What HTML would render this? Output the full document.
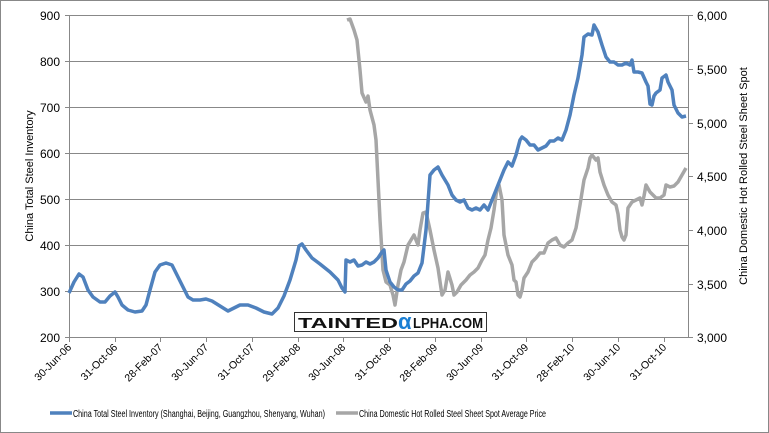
<!DOCTYPE html>
<html><head><meta charset="utf-8"><style>
html,body{margin:0;padding:0;background:#fff}
svg{display:block;font-family:"Liberation Sans",sans-serif}
</style></head><body>
<svg width="769" height="433" viewBox="0 0 769 433">
<rect x="0.5" y="0.5" width="768" height="432" fill="#fff" stroke="#888"/>
<g stroke="#888" stroke-width="1">
<line x1="69" y1="15.5" x2="689" y2="15.5"/><line x1="69" y1="61.5" x2="689" y2="61.5"/>
<line x1="69" y1="107.5" x2="689" y2="107.5"/><line x1="69" y1="153.5" x2="689" y2="153.5"/>
<line x1="69" y1="199.5" x2="689" y2="199.5"/><line x1="69" y1="245.5" x2="689" y2="245.5"/>
<line x1="69" y1="291.5" x2="689" y2="291.5"/>
<line x1="69.5" y1="15" x2="69.5" y2="337"/><line x1="688.5" y1="15" x2="688.5" y2="337"/>
<line x1="65" y1="337.5" x2="689" y2="337.5"/>
<path d="M65 15.5h4M65 61.5h4M65 107.5h4M65 153.5h4M65 199.5h4M65 245.5h4M65 291.5h4"/>
<path d="M689 15.5h4M689 69.5h4M689 123.5h4M689 176.5h4M689 230.5h4M689 284.5h4M689 337.5h4"/>
<path d="M69.5 337v5M115.5 337v5M160.5 337v5M206.5 337v5M252.5 337v5M298.5 337v5M343.5 337v5M389.5 337v5M435.5 337v5M481.5 337v5M526.5 337v5M572.5 337v5M618.5 337v5M664.5 337v5"/>
</g>
<g font-size="12" fill="#000" text-anchor="end">
<text x="60" y="20">900</text><text x="60" y="66">800</text><text x="60" y="112">700</text><text x="60" y="158">600</text><text x="60" y="204">500</text><text x="60" y="250">400</text><text x="60" y="296">300</text><text x="60" y="342">200</text>
</g>
<g font-size="12" fill="#000">
<text x="697" y="20">6,000</text><text x="697" y="74">5,500</text><text x="697" y="128">5,000</text><text x="697" y="181">4,500</text><text x="697" y="235">4,000</text><text x="697" y="289">3,500</text><text x="697" y="342">3,000</text>
</g>
<g font-size="10.5" fill="#000" text-anchor="end">
<text transform="translate(72,348) rotate(-45)">30-Jun-06</text>
<text transform="translate(118,348) rotate(-45)">31-Oct-06</text>
<text transform="translate(163,348) rotate(-45)">28-Feb-07</text>
<text transform="translate(209,348) rotate(-45)">30-Jun-07</text>
<text transform="translate(255,348) rotate(-45)">31-Oct-07</text>
<text transform="translate(301,348) rotate(-45)">29-Feb-08</text>
<text transform="translate(346,348) rotate(-45)">30-Jun-08</text>
<text transform="translate(392,348) rotate(-45)">31-Oct-08</text>
<text transform="translate(438,348) rotate(-45)">28-Feb-09</text>
<text transform="translate(484,348) rotate(-45)">30-Jun-09</text>
<text transform="translate(529,348) rotate(-45)">31-Oct-09</text>
<text transform="translate(575,348) rotate(-45)">28-Feb-10</text>
<text transform="translate(621,348) rotate(-45)">30-Jun-10</text>
<text transform="translate(667,348) rotate(-45)">31-Oct-10</text>
</g>
<text transform="translate(33,176) rotate(-90)" font-size="11" text-anchor="middle">China Total Steel  Inventory</text>
<text transform="translate(747,176) rotate(-90)" font-size="11" text-anchor="middle">China Domestic Hot Rolled Steel Sheet Spot</text>
<polyline fill="none" stroke="#a6a6a6" stroke-width="3.5" stroke-linejoin="round" points="347,20 350,19 354,30 357,40 360,70 362,93 366,102 368,96 370,110 374,125 376,140 378,180 380,220 383,270 386,282 390,285 393,295 395,305 398,285 401,270 404,262 408,245 411,240 414,235 418,245 420,230 423,213 426,212 430,230 434,250 438,268 442,295 445,290 448,272 452,285 454,295 457,292 461,285 466,280 470,275 474,272 478,268 482,260 485,255 488,240 491,228 494,210 497,188 499,185 502,200 504,235 508,255 512,265 514,280 516,282 518,295 520,297 522,290 524,278 528,272 532,262 536,258 540,253 544,253 548,243 552,240 556,238 560,245 564,247 568,243 572,240 576,228 580,205 584,180 588,168 590,158 592,155 596,160 598,158 600,172 604,185 608,195 612,202 616,205 618,214 620,230 622,237 624,240 626,235 628,208 632,202 636,200 640,198 642,205 644,196 646,185 650,192 656,198 660,198 664,195 666,185 670,187 674,186 678,182 682,175 686,168"/>
<polyline fill="none" stroke="#4f81bd" stroke-width="3.5" stroke-linejoin="round" points="69,293 74,282 79,274 83,277 88,290 93,297 100,302 105,302 110,296 115,292 118,297 122,305 128,310 135,312 142,311 146,305 150,290 155,272 160,265 166,263 172,265 176,273 182,285 188,297 193,300 200,300 206,299 212,301 220,306 228,311 234,308 240,305 248,305 256,308 264,312 272,314 278,308 284,296 290,280 296,260 299,246 302,244 306,250 312,258 320,264 330,272 338,280 342,288 345,292 346,260 350,262 354,260 358,266 362,265 366,262 370,264 374,262 378,258 382,252 384,250 386,270 390,282 394,287 398,290 402,290 406,284 410,281 414,276 418,273 422,263 426,230 430,175 434,170 438,167 442,175 448,185 452,195 456,200 460,202 464,200 468,208 472,210 476,208 480,210 484,205 488,210 492,200 496,190 500,180 504,170 508,162 512,166 516,155 520,140 522,137 526,140 530,145 534,145 538,150 542,148 546,146 550,141 554,141 558,138 562,140 566,130 570,115 574,95 578,78 582,55 584,37 588,34 592,35 594,25 598,32 602,45 606,57 610,62 614,62 618,65 622,65 626,63 630,65 632,60 634,72 638,72 642,73 646,82 648,86 650,104 652,105 654,96 656,93 660,90 662,78 666,75 668,82 672,90 674,105 678,113 682,117 686,116"/>
<rect x="294.5" y="312.5" width="192" height="19" fill="#fff" stroke="#333"/>
<text x="298" y="328" font-size="15" font-weight="bold" fill="#111" textLength="100" lengthAdjust="spacingAndGlyphs">TAINTED</text>
<text x="398" y="329" font-size="22" font-weight="bold" fill="#1a7fd4">α</text>
<text x="413" y="328" font-size="15" font-weight="bold" fill="#111" textLength="70" lengthAdjust="spacingAndGlyphs">LPHA.COM</text>
<line x1="50" y1="413" x2="72" y2="413" stroke="#4f81bd" stroke-width="3.5"/>
<text x="73" y="417" font-size="10" textLength="252" lengthAdjust="spacingAndGlyphs">China Total Steel Inventory (Shanghai, Beijing, Guangzhou, Shenyang, Wuhan)</text>
<line x1="336" y1="413" x2="358" y2="413" stroke="#a6a6a6" stroke-width="3.5"/>
<text x="359" y="417" font-size="10" textLength="187" lengthAdjust="spacingAndGlyphs">China Domestic Hot Rolled Steel Sheet Spot Average Price</text>
</svg>
</body></html>
